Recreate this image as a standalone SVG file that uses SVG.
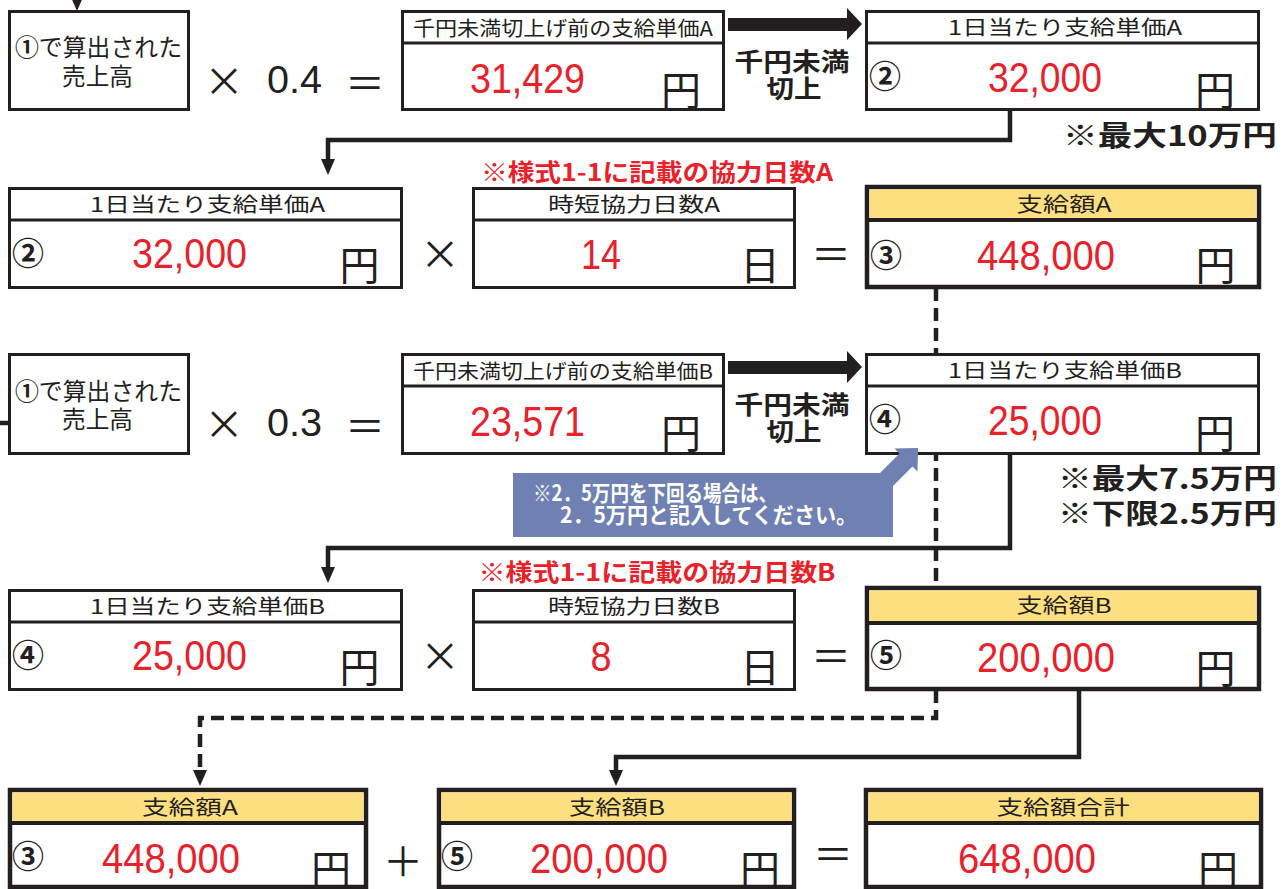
<svg xmlns="http://www.w3.org/2000/svg" width="1285" height="889" viewBox="0 0 1285 889">
<defs>
<style>
.box{fill:#fff;stroke:#231f20;stroke-width:3}
.tbox{fill:#fff;stroke:#231f20;stroke-width:4.5}
.hdr{fill:#fedf80}
.div{stroke:#231f20;stroke-width:3}
.tdiv{stroke:#231f20;stroke-width:4}
.jp{font-family:"Noto Sans CJK JP","Noto Sans",sans-serif;fill:#231f20}
.h{font-size:20px;text-anchor:middle}
.num{font-family:"Liberation Sans",Arial,sans-serif;fill:#e8212b;font-size:42px;text-anchor:middle}
.yen{font-size:40px;text-anchor:middle}
.circ{font-size:32px;font-weight:bold;text-anchor:middle}
.op{font-size:40px;text-anchor:middle}
.dec{font-family:"Liberation Sans",Arial,sans-serif;fill:#231f20;font-size:39px}
.red{font-family:"Noto Sans CJK JP",sans-serif;fill:#e8212b;font-size:24px;font-weight:bold;text-anchor:middle}
.note{font-size:28px;font-weight:bold;text-anchor:middle}
.conn{fill:none;stroke:#231f20;stroke-width:4.5}
.dash{stroke-dasharray:13 7}
.big{fill:#231f20}
.bl{font-size:25px;font-weight:bold;text-anchor:middle}
.cw{font-size:22px;font-weight:bold;fill:#fff}
</style>
<marker id="ah" markerUnits="userSpaceOnUse" viewBox="0 0 16 14" markerWidth="16" markerHeight="14" refX="4" refY="7" orient="auto">
<path d="M0,0 L16,7 L0,14 Z" fill="#231f20"/>
</marker>
</defs>
<rect width="1285" height="889" fill="#fff"/>

<g id="connectors">
<path class="conn" d="M77,-8 V-1" marker-end="url(#ah)"/>
<path class="conn" d="M0,423 H15" marker-end="url(#ah)"/>
<path class="conn" d="M1010,110 V140 H328 V163" marker-end="url(#ah)"/>
<path class="conn" d="M1010,455 V548 H328 V571" marker-end="url(#ah)"/>
<path class="conn dash" d="M936,288 V587"/>
<path class="conn dash" d="M936,690 V718 H200 V774" marker-end="url(#ah)"/>
<path class="conn" d="M1079,690 V757 H616 V774" marker-end="url(#ah)"/>
<path class="big" d="M728,18 H847 V8 L862,24 L847,40 V31 H728 Z"/>
<path class="big" d="M728,361 H847 V351 L862,367 L847,383 V374 H728 Z"/>
</g>

<!-- Row 1 -->
<g id="sales-a">
<rect class="box" x="9.5" y="11.5" width="179" height="98"/>
<text class="jp" x="98.5" y="56" font-size="24" text-anchor="middle" textLength="167" lengthAdjust="spacingAndGlyphs"><tspan font-weight="bold">①</tspan>で算出された</text>
<text class="jp" x="97.5" y="85" font-size="24" text-anchor="middle" textLength="71" lengthAdjust="spacingAndGlyphs">売上高</text>
</g>
<g id="op-a1">
<text class="jp op" x="224" y="96">×</text>
<text class="dec" x="267" y="93" textLength="55" lengthAdjust="spacingAndGlyphs">0.4</text>
<text class="jp op" x="365" y="98">＝</text>
</g>
<g id="pre-a">
<rect class="box" x="402.5" y="11.5" width="321" height="98"/>
<line class="div" x1="402" y1="43" x2="724" y2="43"/>
<text class="jp h" x="563" y="36" textLength="300" lengthAdjust="spacingAndGlyphs">千円未満切上げ前の支給単価A</text>
<text class="num" x="527.5" y="93" textLength="115" lengthAdjust="spacingAndGlyphs">31,429</text>
<text class="jp yen" x="681" y="105">円</text>
</g>
<g id="round-a">
<text class="jp bl" x="792" y="71" textLength="115" lengthAdjust="spacingAndGlyphs">千円未満</text>
<text class="jp bl" x="794" y="98" textLength="55" lengthAdjust="spacingAndGlyphs">切上</text>
</g>
<g id="unit-a">
<rect class="box" x="866.5" y="11.5" width="392" height="98"/>
<line class="div" x1="866" y1="43" x2="1259" y2="43"/>
<text class="jp h" x="1065" y="35" textLength="234" lengthAdjust="spacingAndGlyphs">1日当たり支給単価A</text>
<text class="jp circ" x="885" y="88">②</text>
<text class="num" x="1045" y="92" textLength="114" lengthAdjust="spacingAndGlyphs">32,000</text>
<text class="jp yen" x="1215" y="105">円</text>
</g>
<text class="jp note" x="1170" y="146" textLength="214" lengthAdjust="spacingAndGlyphs">※最大10万円</text>

<!-- Row 2 -->
<text class="red" x="657" y="181" textLength="352" lengthAdjust="spacingAndGlyphs">※様式1-1に記載の協力日数A</text>
<g id="unit-a2">
<rect class="box" x="9.5" y="188.5" width="392" height="99"/>
<line class="div" x1="9" y1="220" x2="402" y2="220"/>
<text class="jp h" x="207.5" y="212" textLength="235" lengthAdjust="spacingAndGlyphs">1日当たり支給単価A</text>
<text class="jp circ" x="28" y="265">②</text>
<text class="num" x="189.5" y="268" textLength="115" lengthAdjust="spacingAndGlyphs">32,000</text>
<text class="jp yen" x="359.5" y="280">円</text>
</g>
<text class="jp op" x="440" y="269">×</text>
<g id="days-a">
<rect class="box" x="473.5" y="188.5" width="321" height="99"/>
<line class="div" x1="473" y1="220" x2="795" y2="220"/>
<text class="jp h" x="634" y="212" textLength="172" lengthAdjust="spacingAndGlyphs">時短協力日数A</text>
<text class="num" x="601" y="269" textLength="40" lengthAdjust="spacingAndGlyphs">14</text>
<text class="jp yen" x="760" y="280">日</text>
</g>
<text class="jp op" x="831" y="269">＝</text>
<g id="pay-a">
<rect class="tbox" x="867" y="187" width="392" height="100"/>
<rect class="hdr" x="869.5" y="189.5" width="387" height="30"/>
<line class="tdiv" x1="867" y1="220" x2="1259" y2="220"/>
<text class="jp h" x="1064" y="212" textLength="95" lengthAdjust="spacingAndGlyphs">支給額A</text>
<text class="jp circ" x="886" y="267">③</text>
<text class="num" x="1046" y="270" textLength="138" lengthAdjust="spacingAndGlyphs">448,000</text>
<text class="jp yen" x="1215.5" y="280">円</text>
</g>

<!-- Row 3 -->
<g id="sales-b">
<rect class="box" x="9.5" y="354.5" width="179" height="99"/>
<text class="jp" x="98.5" y="400" font-size="24" text-anchor="middle" textLength="167" lengthAdjust="spacingAndGlyphs"><tspan font-weight="bold">①</tspan>で算出された</text>
<text class="jp" x="97.5" y="428" font-size="24" text-anchor="middle" textLength="71" lengthAdjust="spacingAndGlyphs">売上高</text>
</g>
<g id="op-b1">
<text class="jp op" x="224" y="439">×</text>
<text class="dec" x="267" y="436" textLength="55" lengthAdjust="spacingAndGlyphs">0.3</text>
<text class="jp op" x="365" y="441">＝</text>
</g>
<g id="pre-b">
<rect class="box" x="402.5" y="354.5" width="321" height="99"/>
<line class="div" x1="402" y1="386" x2="724" y2="386"/>
<text class="jp h" x="563" y="379" textLength="300" lengthAdjust="spacingAndGlyphs">千円未満切上げ前の支給単価B</text>
<text class="num" x="527.5" y="436" textLength="115" lengthAdjust="spacingAndGlyphs">23,571</text>
<text class="jp yen" x="681" y="448">円</text>
</g>
<g id="round-b">
<text class="jp bl" x="792" y="414" textLength="115" lengthAdjust="spacingAndGlyphs">千円未満</text>
<text class="jp bl" x="794" y="441" textLength="55" lengthAdjust="spacingAndGlyphs">切上</text>
</g>
<g id="unit-b">
<rect class="box" x="866.5" y="354.5" width="392" height="99"/>
<line class="div" x1="866" y1="386" x2="1259" y2="386"/>
<text class="jp h" x="1065" y="378" textLength="234" lengthAdjust="spacingAndGlyphs">1日当たり支給単価B</text>
<text class="jp circ" x="885" y="431">④</text>
<text class="num" x="1045" y="435" textLength="114" lengthAdjust="spacingAndGlyphs">25,000</text>
<text class="jp yen" x="1215" y="448">円</text>
</g>
<g id="callout">
<path d="M513,473 H880 L899.5,453.5 L894.5,448.5 L918,448 L917.5,471.5 L912.5,466.5 L893,486 V537 H513 Z" fill="#6f80b3"/>
<text class="jp cw" x="533" y="501" style="fill:#fff" textLength="244" lengthAdjust="spacingAndGlyphs">※2．5万円を下回る場合は、</text>
<text class="jp cw" x="560" y="523" style="fill:#fff" textLength="297" lengthAdjust="spacingAndGlyphs">2．5万円と記入してください。</text>
</g>
<text class="jp note" x="1167.5" y="489" textLength="219" lengthAdjust="spacingAndGlyphs">※最大7.5万円</text>
<text class="jp note" x="1167.5" y="524" textLength="219" lengthAdjust="spacingAndGlyphs">※下限2.5万円</text>

<!-- Row 4 -->
<text class="red" x="657" y="581" textLength="357" lengthAdjust="spacingAndGlyphs">※様式1-1に記載の協力日数B</text>
<g id="unit-b2">
<rect class="box" x="9.5" y="590.5" width="392" height="99"/>
<line class="div" x1="9" y1="622" x2="402" y2="622"/>
<text class="jp h" x="207.5" y="614" textLength="235" lengthAdjust="spacingAndGlyphs">1日当たり支給単価B</text>
<text class="jp circ" x="28" y="667">④</text>
<text class="num" x="189.5" y="670" textLength="115" lengthAdjust="spacingAndGlyphs">25,000</text>
<text class="jp yen" x="359.5" y="682">円</text>
</g>
<text class="jp op" x="440" y="671">×</text>
<g id="days-b">
<rect class="box" x="473.5" y="590.5" width="321" height="99"/>
<line class="div" x1="473" y1="622" x2="795" y2="622"/>
<text class="jp h" x="634" y="614" textLength="172" lengthAdjust="spacingAndGlyphs">時短協力日数B</text>
<text class="num" x="601" y="671" textLength="21" lengthAdjust="spacingAndGlyphs">8</text>
<text class="jp yen" x="760" y="682">日</text>
</g>
<text class="jp op" x="831" y="671">＝</text>
<g id="pay-b">
<rect class="tbox" x="867" y="588" width="392" height="101"/>
<rect class="hdr" x="869.5" y="590.5" width="387" height="32"/>
<line class="tdiv" x1="867" y1="623" x2="1259" y2="623"/>
<text class="jp h" x="1064" y="613" textLength="95" lengthAdjust="spacingAndGlyphs">支給額B</text>
<text class="jp circ" x="886" y="667">⑤</text>
<text class="num" x="1046" y="672" textLength="138" lengthAdjust="spacingAndGlyphs">200,000</text>
<text class="jp yen" x="1215.5" y="683">円</text>
</g>

<!-- Row 5 -->
<g id="sum-a">
<rect class="tbox" x="10" y="790" width="356" height="97"/>
<rect class="hdr" x="12.5" y="792.5" width="351" height="30"/>
<line class="tdiv" x1="10" y1="823" x2="366" y2="823"/>
<text class="jp h" x="190" y="815" textLength="96" lengthAdjust="spacingAndGlyphs">支給額A</text>
<text class="jp circ" x="28" y="868">③</text>
<text class="num" x="171" y="873" textLength="138" lengthAdjust="spacingAndGlyphs">448,000</text>
<text class="jp yen" x="331" y="884">円</text>
</g>
<text class="jp op" x="403" y="876">＋</text>
<g id="sum-b">
<rect class="tbox" x="439" y="790" width="355" height="97"/>
<rect class="hdr" x="441.5" y="792.5" width="350" height="30"/>
<line class="tdiv" x1="439" y1="823" x2="794" y2="823"/>
<text class="jp h" x="617" y="815" textLength="96" lengthAdjust="spacingAndGlyphs">支給額B</text>
<text class="jp circ" x="457" y="868">⑤</text>
<text class="num" x="599" y="873" textLength="138" lengthAdjust="spacingAndGlyphs">200,000</text>
<text class="jp yen" x="760" y="884">円</text>
</g>
<text class="jp op" x="833" y="869">＝</text>
<g id="total">
<rect class="tbox" x="866" y="790" width="395" height="97"/>
<rect class="hdr" x="868.5" y="792.5" width="390" height="30"/>
<line class="tdiv" x1="866" y1="823" x2="1261" y2="823"/>
<text class="jp h" x="1063" y="815" textLength="133" lengthAdjust="spacingAndGlyphs">支給額合計</text>
<text class="num" x="1027" y="873" textLength="138" lengthAdjust="spacingAndGlyphs">648,000</text>
<text class="jp yen" x="1218" y="884">円</text>
</g>
</svg>
